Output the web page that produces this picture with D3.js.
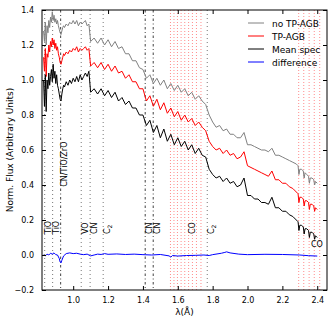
<!DOCTYPE html>
<html>
<head>
<meta charset="utf-8">
<script src="https://cdn.jsdelivr.net/npm/d3@7"></script>
<style>
  html, body { margin: 0; padding: 0; background: #fff; }
  svg { display: block; font-family: "DejaVu Sans", sans-serif; }
</style>
</head>
<body>
<svg id="chart" width="334" height="323"></svg>
<script>
// ---------------- DATA ----------------
const wavelength = [
  0.830,0.835,0.840,0.845,0.850,0.855,0.860,0.865,0.870,0.875,0.880,0.885,0.890,0.895,0.900,0.905,0.910,0.915,0.920,0.925,0.930,0.935,0.940,0.945,0.950,
  0.96,0.97,0.98,0.99,1.00,1.01,1.02,1.03,1.04,1.05,1.06,1.07,1.08,1.09,1.10,
  1.12,1.14,1.16,1.18,1.20,1.22,1.24,1.26,1.28,1.30,1.32,1.34,1.36,1.38,1.40,1.42,1.44,1.46,1.48,1.50,
  1.52,1.54,1.56,1.58,1.60,1.62,1.64,1.66,1.68,1.70,1.72,1.74,1.76,1.78,1.80,1.82,1.84,1.86,1.88,1.90,
  1.92,1.94,1.96,1.98,2.00,2.02,2.04,2.06,2.08,2.10,2.12,2.14,2.16,2.18,2.20,2.22,2.24,2.26,2.28,
  2.29,2.295,2.30,2.31,2.32,2.325,2.33,2.34,2.35,2.355,2.36,2.37,2.38,2.385,2.39,2.40
];
const noTpagb = [
  1.28,1.22,1.33,1.20,1.31,1.27,1.34,1.30,1.36,1.33,1.39,1.34,1.37,1.33,1.35,1.32,1.34,1.31,1.29,1.27,1.26,1.28,1.30,1.31,1.30,
  1.32,1.31,1.33,1.32,1.34,1.32,1.34,1.31,1.33,1.32,1.33,1.34,1.31,1.32,1.22,
  1.24,1.21,1.24,1.20,1.23,1.19,1.22,1.18,1.19,1.15,1.15,1.11,1.11,1.07,1.06,1.01,1.03,0.98,1.01,0.97,
  1.00,0.95,0.98,0.94,0.97,0.93,0.95,0.91,0.93,0.89,0.91,0.88,0.86,0.80,0.76,0.73,0.74,0.71,0.72,0.69,
  0.69,0.67,0.67,0.70,0.63,0.63,0.62,0.61,0.60,0.60,0.59,0.61,0.57,0.57,0.56,0.55,0.54,0.53,0.52,
  0.51,0.46,0.49,0.49,0.48,0.44,0.47,0.46,0.45,0.41,0.44,0.44,0.43,0.40,0.42,0.41
];
const tpagb = [
  1.13,1.05,1.18,1.02,1.15,1.13,1.20,1.16,1.22,1.19,1.24,1.20,1.23,1.18,1.21,1.17,1.19,1.15,1.13,1.10,1.09,1.11,1.13,1.15,1.14,
  1.16,1.15,1.17,1.16,1.18,1.17,1.19,1.16,1.18,1.17,1.18,1.19,1.17,1.18,1.08,
  1.10,1.07,1.10,1.06,1.09,1.05,1.08,1.04,1.05,1.01,1.03,0.99,0.99,0.95,0.95,0.88,0.91,0.85,0.89,0.83,
  0.87,0.81,0.84,0.79,0.82,0.77,0.80,0.76,0.78,0.74,0.76,0.73,0.71,0.65,0.62,0.60,0.61,0.58,0.60,0.57,
  0.58,0.55,0.56,0.59,0.51,0.50,0.49,0.48,0.47,0.46,0.45,0.48,0.43,0.43,0.41,0.41,0.39,0.38,0.36,
  0.35,0.30,0.33,0.33,0.32,0.28,0.31,0.31,0.30,0.26,0.29,0.29,0.28,0.25,0.27,0.26
];
const meanSpec = [
  1.00,0.85,1.03,0.82,1.00,0.95,1.04,0.97,1.02,1.06,0.99,1.09,1.01,1.05,0.98,1.03,0.97,0.95,0.92,0.89,0.88,0.92,0.95,0.97,0.96,
  0.99,0.97,1.00,0.98,1.01,0.99,1.02,0.99,1.03,1.00,1.02,1.04,1.02,1.05,0.93,
  0.95,0.92,0.95,0.91,0.94,0.90,0.93,0.88,0.90,0.86,0.88,0.84,0.84,0.80,0.80,0.74,0.77,0.70,0.74,0.67,
  0.72,0.65,0.69,0.63,0.67,0.62,0.65,0.60,0.63,0.58,0.61,0.57,0.56,0.49,0.46,0.44,0.45,0.42,0.44,0.41,
  0.42,0.39,0.40,0.44,0.34,0.34,0.32,0.32,0.30,0.30,0.29,0.33,0.27,0.27,0.25,0.25,0.23,0.22,0.20,
  0.19,0.14,0.17,0.17,0.16,0.12,0.15,0.15,0.14,0.10,0.13,0.13,0.12,0.09,0.11,0.10
];
const diffWavelength = [
  0.830,0.840,0.850,0.860,0.870,0.880,0.890,0.900,0.910,0.920,0.925,0.930,0.935,0.945,0.960,0.980,
  1.000,1.020,1.040,1.060,1.080,1.100,1.120,1.140,1.160,1.180,1.200,1.250,1.300,1.350,1.400,1.450,
  1.500,1.550,1.560,1.570,1.600,1.650,1.700,1.750,1.780,1.800,1.850,1.870,1.880,1.900,1.950,2.000,
  2.100,2.200,2.300,2.350,2.400
];
const difference = [
  0.000,-0.005,0.005,0.000,0.010,0.005,0.012,0.002,0.000,-0.020,-0.040,-0.045,-0.030,-0.005,0.008,0.012,
  0.008,0.010,0.005,0.002,0.005,-0.005,0.000,0.005,0.003,0.008,0.004,0.006,0.003,0.005,0.002,0.000,
  0.003,-0.005,-0.012,-0.003,-0.006,-0.003,-0.002,0.000,-0.003,0.002,0.010,0.015,0.018,0.012,0.005,0.002,
  0.004,0.003,0.000,-0.004,-0.006
];
const dottedLines = [0.8365, 0.882, 1.046, 1.097, 1.172, 1.769];
const dashDotLines = [0.928, 1.413, 1.459];
const coLines = [1.558, 1.578, 1.598, 1.619, 1.640, 1.662, 1.684, 1.707, 1.733, 2.2935, 2.3227, 2.3535, 2.3829, 2.4142];
const bandLabels = ["TiO", "TiO", "CN/TiO/ZrO", "VO", "CN", "C₂", "CN", "CN", "CO", "C₂"];
const bandLabelX = [0.8365, 0.882, 0.928, 1.046, 1.097, 1.172, 1.413, 1.459, 1.662, 1.769];
const bandLabelY = [0.12, 0.12, 0.39, 0.12, 0.12, 0.12, 0.12, 0.12, 0.12, 0.12];
const coKLabel = { text: "CO", x: 2.364, y: 0.046 };
const xTicks = [1.0, 1.2, 1.4, 1.6, 1.8, 2.0, 2.2, 2.4];
const yTicks = [-0.2, 0.0, 0.2, 0.4, 0.6, 0.8, 1.0, 1.2, 1.4];
const seriesNames = ["no TP-AGB", "TP-AGB", "Mean spec", "difference"];
const seriesColors = ["#808080", "#ff0000", "#000000", "#0000ff"];

// ---------------- CHART ----------------
const svg = d3.select("#chart");
const L = 42, R = 327, T = 10, B = 290;
const x = d3.scaleLinear().domain([0.821, 2.456]).range([L, R]);
const y = d3.scaleLinear().domain([-0.2, 1.4]).range([B, T]);

svg.append("defs").append("clipPath").attr("id", "clip")
  .append("rect").attr("x", L).attr("y", T).attr("width", R - L).attr("height", B - T);

const plot = svg.append("g").attr("clip-path", "url(#clip)");

// vertical marker lines
plot.selectAll(".co").data(coLines).enter().append("line")
  .attr("x1", d => x(d)).attr("x2", d => x(d)).attr("y1", T).attr("y2", B)
  .attr("stroke", "#ff0000").attr("stroke-opacity", 0.45).attr("stroke-width", 1)
  .attr("stroke-dasharray", "1,2");
plot.selectAll(".dot").data(dottedLines).enter().append("line")
  .attr("x1", d => x(d)).attr("x2", d => x(d)).attr("y1", T).attr("y2", B)
  .attr("stroke", "#555").attr("stroke-opacity", 0.8).attr("stroke-width", 1)
  .attr("stroke-dasharray", "1,3");
plot.selectAll(".dd").data(dashDotLines).enter().append("line")
  .attr("x1", d => x(d)).attr("x2", d => x(d)).attr("y1", T).attr("y2", B)
  .attr("stroke", "#000").attr("stroke-opacity", 0.75).attr("stroke-width", 1)
  .attr("stroke-dasharray", "2.5,2.5,1,2.5");

// spectra
const line = d3.line().x(d => x(d[0])).y(d => y(d[1]));
const spectra = [noTpagb, tpagb, meanSpec];
spectra.forEach((vals, i) => {
  plot.append("path")
    .datum(wavelength.map((w, k) => [w, vals[k]]))
    .attr("d", line).attr("fill", "none")
    .attr("stroke", seriesColors[i]).attr("stroke-width", 1)
    .attr("stroke-linejoin", "round");
});
plot.append("path")
  .datum(diffWavelength.map((w, k) => [w, difference[k]]))
  .attr("d", line).attr("fill", "none")
  .attr("stroke", seriesColors[3]).attr("stroke-width", 1);

// band labels (rotated)
bandLabels.forEach((t, i) => {
  const px = x(bandLabelX[i]) + 6.5, py = y(bandLabelY[i]);
  const txt = svg.append("text")
    .attr("transform", `translate(${px},${py}) rotate(-90)`)
    .attr("font-size", 8).attr("fill", "#000");
  if (t === "C₂") {
    txt.append("tspan").text("C");
    txt.append("tspan").attr("font-size", 6).attr("dy", 2).text("2");
  } else {
    txt.text(t);
  }
});
svg.append("text").attr("x", x(coKLabel.x)).attr("y", y(coKLabel.y))
  .attr("font-size", 8).attr("fill", "#000").text(coKLabel.text);

// frame
svg.append("rect").attr("x", L).attr("y", T).attr("width", R - L).attr("height", B - T)
  .attr("fill", "none").attr("stroke", "#000").attr("stroke-width", 1);

// axes
const fmt = d3.format(".1f");
const xb = svg.append("g").attr("transform", `translate(0,${B})`)
  .call(d3.axisBottom(x).tickValues(xTicks).tickFormat(fmt).tickSize(-4).tickPadding(7));
const xt = svg.append("g").attr("transform", `translate(0,${T})`)
  .call(d3.axisTop(x).tickValues(xTicks).tickFormat("").tickSize(-4));
const yl = svg.append("g").attr("transform", `translate(${L},0)`)
  .call(d3.axisLeft(y).tickValues(yTicks).tickFormat(fmt).tickSize(-4).tickPadding(8));
const yr = svg.append("g").attr("transform", `translate(${R},0)`)
  .call(d3.axisRight(y).tickValues(yTicks).tickFormat("").tickSize(-4));
[xb, xt, yl, yr].forEach(g => {
  g.select(".domain").remove();
  g.selectAll("line").attr("stroke", "#000");
  g.selectAll("text").attr("font-size", 8).attr("fill", "#000")
    .attr("font-family", "DejaVu Sans, sans-serif");
});

// axis titles
svg.append("text").attr("x", (L + R) / 2).attr("y", 315).attr("text-anchor", "middle")
  .attr("font-size", 9).text("λ(Å)");
svg.append("text").attr("transform", `translate(13,${(T + B) / 2}) rotate(-90)`)
  .attr("text-anchor", "middle").attr("font-size", 9).text("Norm. Flux (Arbitrary Units)");

// legend
const legend = svg.append("g");
seriesNames.forEach((n, i) => {
  const ly = 23 + i * 13;
  legend.append("line").attr("x1", 248).attr("x2", 264).attr("y1", ly).attr("y2", ly)
    .attr("stroke", seriesColors[i]).attr("stroke-width", 1);
  legend.append("text").attr("x", 272).attr("y", ly + 3.5).attr("font-size", 9).text(n);
});
</script>
</body>
</html>
